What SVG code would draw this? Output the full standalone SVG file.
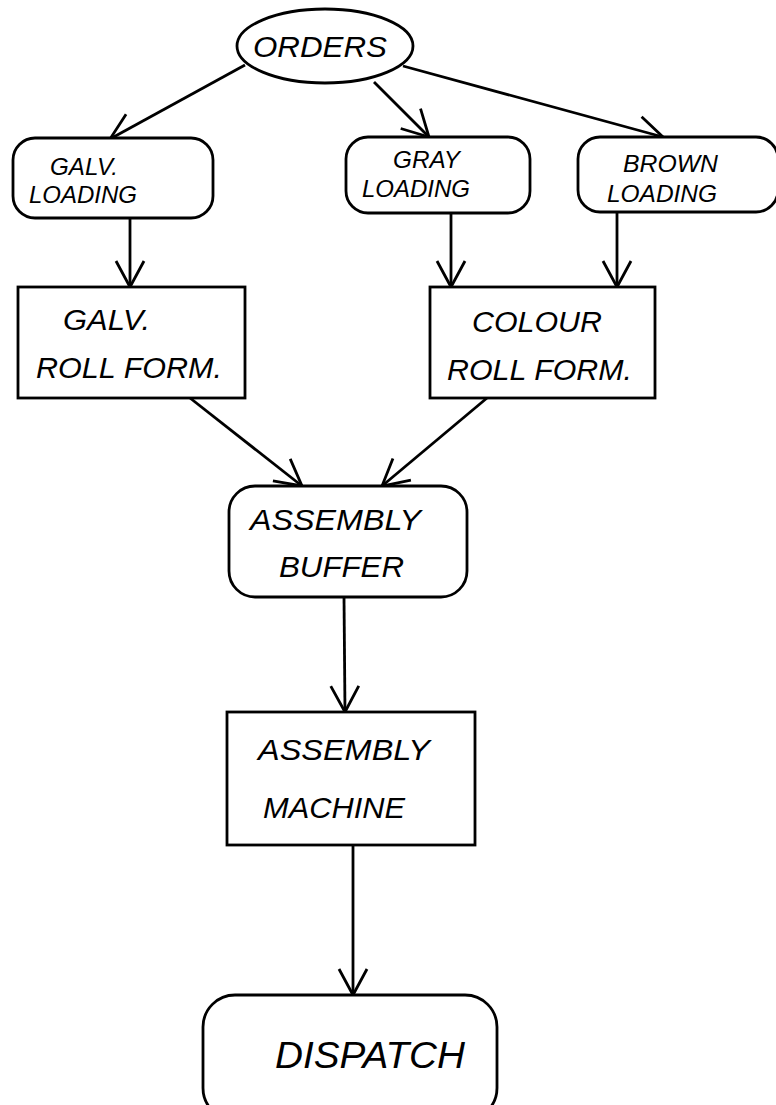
<svg xmlns="http://www.w3.org/2000/svg" width="776" height="1105" viewBox="0 0 776 1105">
<defs>
<style>
.n{fill:#fff;stroke:#000;stroke-width:2.8}
.c{fill:none;stroke:#000;stroke-width:2.8}
text{font-family:"Liberation Sans",Arial,sans-serif;font-style:italic;fill:#000}
.s{font-size:24px}
.o{font-size:29px}
.m{font-size:30px}
.l{font-size:36px}
</style>
<marker id="v" markerUnits="userSpaceOnUse" markerWidth="32" markerHeight="34" viewBox="-28 -16 32 32" refX="0" refY="0" orient="auto">
<path d="M-26,-14 L0,0 L-26,14" fill="none" stroke="#000" stroke-width="2.8"/>
</marker>
</defs>
<rect width="776" height="1105" fill="#fff"/>
<g id="connectors">
<line class="c" x1="245" y1="65" x2="110" y2="139" marker-end="url(#v)"/>
<line class="c" x1="374" y1="82" x2="429" y2="137" marker-end="url(#v)"/>
<line class="c" x1="403" y1="66" x2="663" y2="137" marker-end="url(#v)"/>
<line class="c" x1="130" y1="218" x2="130" y2="287" marker-end="url(#v)"/>
<line class="c" x1="451" y1="213" x2="451" y2="287" marker-end="url(#v)"/>
<line class="c" x1="617" y1="212" x2="617" y2="287" marker-end="url(#v)"/>
<line class="c" x1="190" y1="398" x2="302" y2="486" marker-end="url(#v)"/>
<line class="c" x1="487" y1="398" x2="382" y2="486" marker-end="url(#v)"/>
<line class="c" x1="344" y1="597" x2="345" y2="712" marker-end="url(#v)"/>
<line class="c" x1="353" y1="845" x2="353" y2="995" marker-end="url(#v)"/>
</g>
<g id="orders">
<ellipse class="n" cx="325" cy="46" rx="88" ry="37"/>
<text class="o" x="253" y="57" textLength="134" lengthAdjust="spacingAndGlyphs">ORDERS</text>
</g>
<g id="galv-loading">
<rect class="n" x="13" y="138" width="200" height="80" rx="22"/>
<text class="s" x="50" y="175" textLength="68" lengthAdjust="spacingAndGlyphs">GALV.</text>
<text class="s" x="29" y="203" textLength="108" lengthAdjust="spacingAndGlyphs">LOADING</text>
</g>
<g id="gray-loading">
<rect class="n" x="346" y="137" width="184" height="76" rx="22"/>
<text class="s" x="393" y="168" textLength="67" lengthAdjust="spacingAndGlyphs">GRAY</text>
<text class="s" x="362" y="197" textLength="108" lengthAdjust="spacingAndGlyphs">LOADING</text>
</g>
<g id="brown-loading">
<rect class="n" x="578" y="137" width="200" height="75" rx="22"/>
<text class="s" x="623" y="172" textLength="95" lengthAdjust="spacingAndGlyphs">BROWN</text>
<text class="s" x="607" y="202" textLength="110" lengthAdjust="spacingAndGlyphs">LOADING</text>
</g>
<g id="galv-roll-form">
<rect class="n" x="18" y="287" width="227" height="111"/>
<text class="m" x="63" y="330" textLength="87" lengthAdjust="spacingAndGlyphs">GALV.</text>
<text class="m" x="36" y="378" textLength="186" lengthAdjust="spacingAndGlyphs">ROLL FORM.</text>
</g>
<g id="colour-roll-form">
<rect class="n" x="430" y="287" width="225" height="111"/>
<text class="m" x="472" y="332" textLength="130" lengthAdjust="spacingAndGlyphs">COLOUR</text>
<text class="m" x="447" y="380" textLength="185" lengthAdjust="spacingAndGlyphs">ROLL FORM.</text>
</g>
<g id="assembly-buffer">
<rect class="n" x="229" y="486" width="238" height="111" rx="26"/>
<text class="m" x="250" y="530" textLength="171" lengthAdjust="spacingAndGlyphs">ASSEMBLY</text>
<text class="m" x="279" y="577" textLength="125" lengthAdjust="spacingAndGlyphs">BUFFER</text>
</g>
<g id="assembly-machine">
<rect class="n" x="227" y="712" width="248" height="133"/>
<text class="m" x="258" y="760" textLength="172" lengthAdjust="spacingAndGlyphs">ASSEMBLY</text>
<text class="m" x="263" y="818" textLength="142" lengthAdjust="spacingAndGlyphs">MACHINE</text>
</g>
<g id="dispatch">
<rect class="n" x="203" y="995" width="294" height="125" rx="32"/>
<text class="l" x="275" y="1068" textLength="190" lengthAdjust="spacingAndGlyphs">DISPATCH</text>
</g>
</svg>
